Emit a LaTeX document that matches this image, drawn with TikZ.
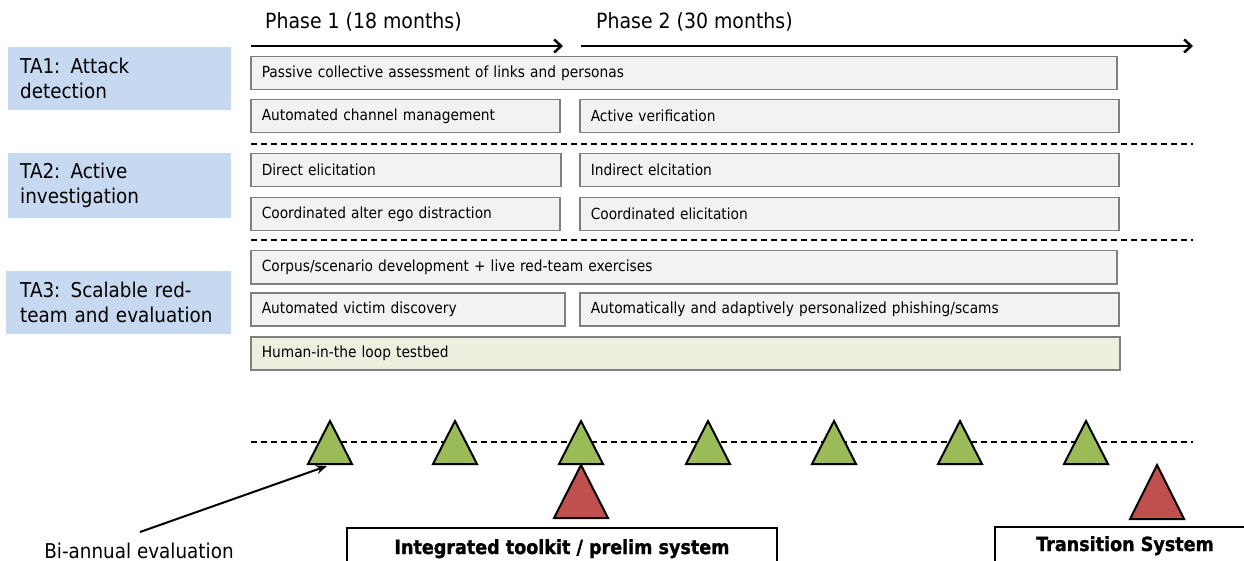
\documentclass[tikz,border=0pt]{standalone}
\usepackage{fontspec}
\setmainfont{DejaVu Sans}[FakeStretch=0.9]
\newfontfamily\heavyfam{DejaVu Sans}[FakeStretch=0.9, BoldFeatures={FakeBold=1.3}]
\usetikzlibrary{arrows.meta}
\definecolor{tablue}{HTML}{C6D9F1}
\definecolor{boxfill}{HTML}{F2F2F2}
\definecolor{boxline}{HTML}{7F7F7F}
\definecolor{lgreen}{HTML}{EBF1DE}
\definecolor{tgreen}{HTML}{9BBB59}
\definecolor{tred}{HTML}{C0504D}
\tikzset{
  rowbox/.style={draw=boxline, fill=boxfill, line width=1.5pt, inner xsep=11pt, inner ysep=0pt,
    anchor=north west, minimum height=33pt, align=left, text width=#1,
    font=\fontsize{15.3}{17}\selectfont},
  talabel/.style={fill=tablue, anchor=north west, inner xsep=12pt, inner ysep=0pt,
    minimum height=#1, text width=199pt, align=left, font=\fontsize{20.4}{25}\selectfont},
  phase/.style={anchor=base west, inner sep=0pt, font=\fontsize{21}{23}\selectfont},
  phasearrow/.style={line width=2pt, -{Straight Barb[length=7pt,width=13pt,line width=2.5pt]}},
  sep/.style={dashed, dash pattern=on 6pt off 4pt, line width=1.2pt},
  gtri/.style={fill=tgreen, draw=black, line width=2pt, line join=miter},
  rtri/.style={fill=tred, draw=black, line width=2pt, line join=miter},
  outbox/.style={draw=black, line width=1.5pt},
  boldlabel/.style={inner sep=0pt, font=\heavyfam\bfseries\fontsize{19.5}{21}\selectfont}
}
\begin{document}
\begin{tikzpicture}[x=1pt,y=-1pt]
\useasboundingbox (0,0) rectangle (1244,561);
% phase headers
\node[phase] (p1) at (265,29) {Phase 1 (18 months)};
\node[phase] (p2) at (596,29) {Phase 2 (30 months)};
\coordinate (a1s) at (251,46); \coordinate (a1e) at (563,46);
\coordinate (a2s) at (581,46); \coordinate (a2e) at (1193,46);
\draw[phasearrow] (a1s) -- (a1e);
\draw[phasearrow] (a2s) -- (a2e);
% TA labels
\node[talabel=63pt] (ta1) at (8,47) {TA1: Attack\\detection};
\node[talabel=65pt] (ta2) at (8,153) {TA2: Active\\investigation};
\node[talabel=63pt, inner xsep=14pt, text width=197pt] (ta3) at (6,271) {TA3: Scalable red-\\team and evaluation};
% rows
\node[rowbox=844pt] (r1) at (250,56) {Passive collective assessment of links and personas};
\node[rowbox=287pt] (r2a) at (250,99) {Automated channel management};
\node[rowbox=517pt] (r2b) at (579,99) {Active verification};
\node[rowbox=288pt] (r3a) at (250,153) {Direct elicitation};
\node[rowbox=517pt] (r3b) at (579,153) {Indirect elcitation};
\node[rowbox=287pt] (r4a) at (250,197) {Coordinated alter ego distraction};
\node[rowbox=517pt] (r4b) at (579,197) {Coordinated elicitation};
\node[rowbox=844pt] (r5) at (250,250) {Corpus/scenario development + live red-team exercises};
\node[rowbox=292pt] (r6a) at (250,292) {Automated victim discovery};
\node[rowbox=517pt] (r6b) at (579,292) {Automatically and adaptively personalized phishing/scams};
\node[rowbox=847pt, fill=lgreen] (r7) at (250,336) {Human-in-the loop testbed};
% separators
\coordinate (d1s) at (251,144); \coordinate (d1e) at (1193,144);
\coordinate (d2s) at (251,240); \coordinate (d2e) at (1193,240);
\coordinate (d3s) at (251,442); \coordinate (d3e) at (1193,442);
\draw[sep] (d1s) -- (d1e);
\draw[sep] (d2s) -- (d2e);
\draw[sep] (d3s) -- (d3e);
% green triangles (bi-annual evaluations)
\foreach \cx [count=\i] in {330,455,581,708,834,960,1086}{
  \draw[gtri] (\cx-22,464) -- (\cx,421) -- (\cx+22,464) -- cycle;
  \coordinate (g\i) at (\cx-3,466);
}
% red triangles (deliverables)
\draw[rtri] (554,518) -- (581,465) -- (608,518) -- cycle;
\draw[rtri] (1130,519) -- (1157,465) -- (1184,519) -- cycle;
% bottom annotation
\node[anchor=base, inner sep=0pt, font=\fontsize{20.4}{22}\selectfont] (bi) at (139,558) {Bi-annual evaluation};
\coordinate (bis) at (140,532);
\draw[line width=2pt, -{Stealth[length=11pt,width=9pt]}] (bis) -- (g1);
% deliverable boxes
\draw[outbox] (347,580) -- (347,528) -- (777,528) -- (777,580);
\node[boldlabel, anchor=base] (it) at (562,554) {Integrated toolkit / prelim system};
\draw[outbox] (995,580) -- (995,527) -- (1250,527);
\node[boldlabel, anchor=base] (ts) at (1125,551) {Transition System};
\end{tikzpicture}
\end{document}
